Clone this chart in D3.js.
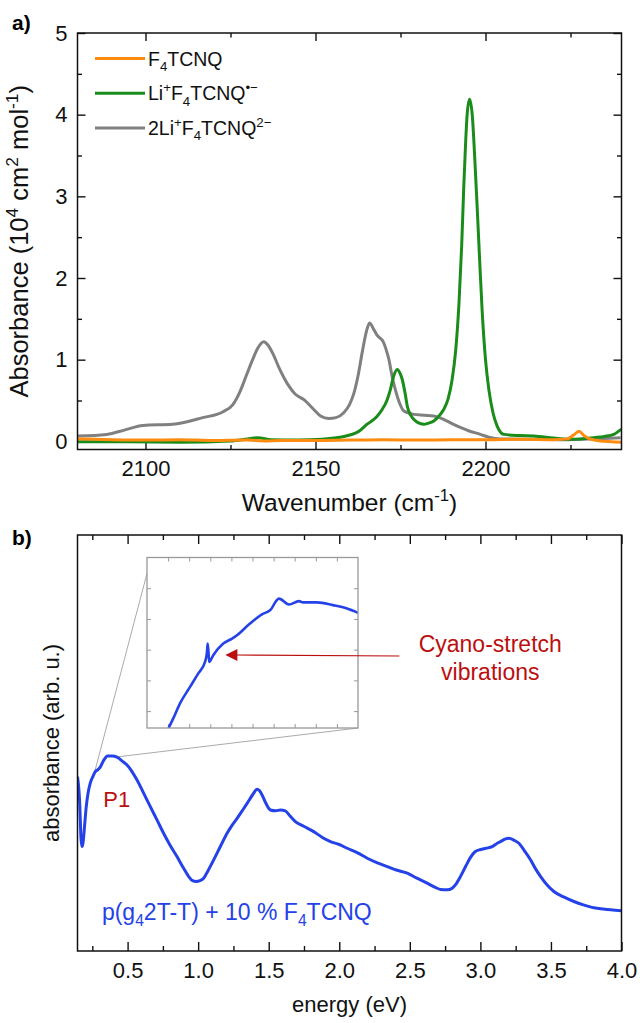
<!DOCTYPE html>
<html>
<head>
<meta charset="utf-8">
<script src="https://cdn.jsdelivr.net/npm/d3@7"></script>
<style>
  body { margin: 0; background: #fff; }
  svg { display: block; font-family: "Liberation Sans", Arial, sans-serif; }
</style>
</head>
<body>
<div id="chart"></div>
<script>
// ---------- panel a) : IR spectra, [wavenumber (cm-1), absorbance (1e4 cm2 mol-1)]
const neutralSpectrum = [
  [2080, 0.03], [2090, 0.02], [2100, 0.015], [2110, 0.02], [2120, 0.01], [2130, 0.015],
  [2135, 0.005], [2140, 0.01], [2150, 0.01], [2160, 0.015], [2170, 0.02], [2180, 0.015],
  [2190, 0.02], [2200, 0.02], [2210, 0.025], [2220, 0.02], [2224, 0.03], [2226, 0.08],
  [2227.5, 0.125], [2229, 0.07], [2231, 0.025], [2235, 0.0], [2240, -0.01]
];
const anionSpectrum = [
  [2080, -0.005], [2095, -0.005], [2110, -0.01], [2125, 0.005], [2130, 0.03], [2133, 0.045],
  [2137, 0.02], [2145, 0.015], [2152, 0.025], [2159, 0.065], [2163, 0.13], [2165.2, 0.21],
  [2168, 0.3], [2169.6, 0.39], [2171, 0.5], [2172, 0.63], [2173, 0.8], [2174, 0.88],
  [2175, 0.82], [2175.5, 0.76], [2176.3, 0.6], [2177, 0.43], [2178, 0.32], [2179.4, 0.25],
  [2181, 0.215], [2181.9, 0.21], [2183, 0.22], [2184.8, 0.25], [2186.5, 0.32], [2187.7, 0.39],
  [2189, 0.52], [2190.2, 0.76], [2191.2, 1.1], [2192.2, 1.69], [2193, 2.4], [2193.6, 3.11],
  [2194.2, 3.7], [2194.6, 4.0], [2195.3, 4.19], [2196.1, 4.0], [2196.8, 3.5], [2197.5, 2.91],
  [2198.3, 2.2], [2199, 1.61], [2200, 1.0], [2201, 0.63], [2202.2, 0.35], [2203.4, 0.19],
  [2205.4, 0.085], [2210, 0.07], [2214.2, 0.065], [2220, 0.04], [2224, 0.025], [2228, 0.03],
  [2231.8, 0.045], [2235, 0.06], [2237.7, 0.085], [2240, 0.15]
];
const dianionSpectrum = [
  [2080, 0.065], [2088.6, 0.085], [2094, 0.14], [2099.2, 0.195], [2108, 0.21], [2116.8, 0.29],
  [2122.7, 0.36], [2125.7, 0.45], [2127.7, 0.6], [2129.6, 0.8], [2131.5, 1.0], [2133, 1.14],
  [2134.8, 1.22], [2136, 1.18], [2137.4, 1.08], [2139.5, 0.88], [2141.8, 0.7], [2144, 0.58],
  [2146.6, 0.51], [2149.5, 0.39], [2151.5, 0.31], [2153.9, 0.28], [2156, 0.29], [2158.3, 0.35],
  [2160, 0.45], [2161.3, 0.59], [2162.5, 0.8], [2163.7, 1.08], [2165, 1.35], [2165.9, 1.45],
  [2167, 1.38], [2168.1, 1.3], [2169.9, 1.22], [2170.8, 1.12], [2171.6, 1.0], [2172.5, 0.8],
  [2173.5, 0.63], [2174.8, 0.46], [2176, 0.37], [2178.9, 0.33], [2182, 0.32], [2184.8, 0.31],
  [2187.7, 0.27], [2190, 0.22], [2192.6, 0.17], [2195, 0.13], [2198.5, 0.085], [2201, 0.05],
  [2204.4, 0.03], [2215, 0.025], [2224, 0.02], [2232, 0.03], [2239.7, 0.045]
];
const topSeriesNames = ["neutral", "anion", "dianion"];
const topXTicks = [2100, 2150, 2200];
const topXMinor = [2125, 2175, 2225];
const topYTicks = [0, 1, 2, 3, 4, 5];
const topYMinor = [0.5, 1.5, 2.5, 3.5, 4.5];

// ---------- panel b) : UV-vis-NIR, [energy (eV), absorbance (arb. u.)]
const dopedSpectrum = [
  [0.145, 0.419], [0.16, 0.36], [0.17, 0.27], [0.177, 0.251], [0.185, 0.262], [0.195, 0.3],
  [0.207, 0.347], [0.22, 0.38], [0.235, 0.403], [0.255, 0.42], [0.271, 0.431], [0.29, 0.436],
  [0.306, 0.442], [0.33, 0.458], [0.358, 0.469], [0.39, 0.469], [0.425, 0.466], [0.46, 0.457],
  [0.496, 0.447], [0.53, 0.432], [0.567, 0.411], [0.61, 0.382], [0.661, 0.347], [0.71, 0.314],
  [0.755, 0.283], [0.8, 0.255], [0.85, 0.227], [0.895, 0.2], [0.933, 0.179], [0.96, 0.169],
  [0.987, 0.167], [1.012, 0.169], [1.039, 0.175], [1.07, 0.193], [1.11, 0.219], [1.16, 0.253],
  [1.205, 0.283], [1.24, 0.302], [1.276, 0.319], [1.31, 0.336], [1.347, 0.355], [1.385, 0.375],
  [1.418, 0.389], [1.435, 0.385], [1.453, 0.375], [1.48, 0.355], [1.512, 0.339], [1.55, 0.337],
  [1.583, 0.339], [1.618, 0.337], [1.65, 0.325], [1.689, 0.311], [1.748, 0.3], [1.819, 0.287],
  [1.88, 0.273], [1.938, 0.263], [2.0, 0.256], [2.056, 0.247], [2.13, 0.236], [2.198, 0.223],
  [2.27, 0.212], [2.34, 0.203], [2.41, 0.194], [2.482, 0.187], [2.55, 0.175], [2.623, 0.163],
  [2.68, 0.153], [2.718, 0.148], [2.765, 0.147], [2.8, 0.151], [2.823, 0.159], [2.86, 0.18],
  [2.895, 0.203], [2.93, 0.225], [2.96, 0.238], [3.001, 0.244], [3.04, 0.247], [3.084, 0.251],
  [3.12, 0.259], [3.143, 0.263], [3.175, 0.269], [3.202, 0.271], [3.24, 0.266], [3.273, 0.259],
  [3.31, 0.242], [3.356, 0.219], [3.39, 0.198], [3.427, 0.179], [3.47, 0.16], [3.521, 0.143],
  [3.59, 0.13], [3.663, 0.119], [3.73, 0.111], [3.805, 0.104], [3.87, 0.101], [3.923, 0.099],
  [4.0, 0.097]
];
// zoom of the P1 band
const insetSpectrum = [
  [0.2705, -0.55], [0.2749, -0.237], [0.2813, 0.25], [0.2908, 0.79], [0.2986, 1.226],
  [0.305, 1.603], [0.3068, 1.9], [0.3075, 2.2], [0.3083, 1.9], [0.309, 1.603], [0.3128, 1.82],
  [0.3223, 2.2], [0.3306, 2.36], [0.3353, 2.47], [0.3476, 2.85], [0.359, 3.15], [0.3666, 3.28],
  [0.3751, 3.66], [0.3846, 3.47], [0.394, 3.58], [0.3979, 3.54], [0.4111, 3.54], [0.4263, 3.45],
  [0.4396, 3.34], [0.45, 3.2]
];
const bottomXTicks = [0.5, 1.0, 1.5, 2.0, 2.5, 3.0, 3.5, 4.0];
const bottomXMinor = [0.25, 0.75, 1.25, 1.75, 2.25, 2.75, 3.25, 3.75];
const insetXTicks = [0.27, 0.29, 0.31, 0.33, 0.35, 0.37, 0.39, 0.41, 0.43];
const insetYTicks = [0, 1, 2, 3, 4];

const colors = { neutral: "#ff8c0f", anion: "#1a8c1a", dianion: "#808080", doped: "#2442e8", note: "#bb0f0f" };
const FS = 22;

const svg = d3.select("#chart").append("svg").attr("width", 640).attr("height", 1023);
svg.append("rect").attr("width", 640).attr("height", 1023).attr("fill", "#fff");

// text with sub/superscripts: parts = [[string, "sub"|"sup"|undefined], ...]
function richText(sel, parts, size) {
  let cur = 0;
  parts.forEach(([s, kind]) => {
    const target = kind === "sup" ? -0.4 * size : kind === "sub" ? 0.28 * size : 0;
    sel.append("tspan")
      .attr("dy", target - cur)
      .attr("font-size", kind ? size * 0.68 : size)
      .text(s);
    cur = target;
  });
  return sel;
}

function styleAxis(g) {
  g.select(".domain").remove();
  g.selectAll(".tick line").attr("stroke", "#111").attr("stroke-width", 1.4);
  g.selectAll("text").attr("font-size", FS).attr("fill", "#111").attr("font-family", "Liberation Sans, Arial, sans-serif");
}

// ================= panel a) =================
const a = { left: 77.5, right: 621.5, top: 33, bottom: 449.5 };
const xA = d3.scaleLinear().domain([2080, 2240]).range([a.left, a.right]);
const yA = d3.scaleLinear().domain([-0.1, 5]).range([a.bottom, a.top]);

svg.append("g").attr("transform", `translate(0,${a.bottom})`)
  .call(d3.axisBottom(xA).tickValues(topXTicks).tickSizeInner(-8).tickSizeOuter(0).tickPadding(11).tickFormat(d3.format("d")))
  .call(styleAxis);
svg.append("g").attr("transform", `translate(0,${a.bottom})`)
  .call(d3.axisBottom(xA).tickValues(topXMinor).tickSizeInner(-4.5).tickSizeOuter(0).tickFormat(""))
  .call(styleAxis);
svg.append("g").attr("transform", `translate(0,${a.top})`)
  .call(d3.axisTop(xA).tickValues(topXTicks).tickSizeInner(-8).tickSizeOuter(0).tickFormat(""))
  .call(styleAxis);
svg.append("g").attr("transform", `translate(0,${a.top})`)
  .call(d3.axisTop(xA).tickValues(topXMinor).tickSizeInner(-4.5).tickSizeOuter(0).tickFormat(""))
  .call(styleAxis);
svg.append("g").attr("transform", `translate(${a.left},0)`)
  .call(d3.axisLeft(yA).tickValues(topYTicks).tickSizeInner(-8).tickSizeOuter(0).tickPadding(10).tickFormat(d3.format("d")))
  .call(styleAxis);
svg.append("g").attr("transform", `translate(${a.left},0)`)
  .call(d3.axisLeft(yA).tickValues(topYMinor).tickSizeInner(-4.5).tickSizeOuter(0).tickFormat(""))
  .call(styleAxis);
svg.append("g").attr("transform", `translate(${a.right},0)`)
  .call(d3.axisRight(yA).tickValues(topYTicks).tickSizeInner(-8).tickSizeOuter(0).tickFormat(""))
  .call(styleAxis);
svg.append("g").attr("transform", `translate(${a.right},0)`)
  .call(d3.axisRight(yA).tickValues(topYMinor).tickSizeInner(-4.5).tickSizeOuter(0).tickFormat(""))
  .call(styleAxis);

svg.append("defs").append("clipPath").attr("id", "clipA")
  .append("rect").attr("x", a.left).attr("y", a.top).attr("width", a.right - a.left).attr("height", a.bottom - a.top);

const lineA = d3.line().x((d) => xA(d[0])).y((d) => yA(d[1])).curve(d3.curveMonotoneX);
const topSeries = { neutral: neutralSpectrum, anion: anionSpectrum, dianion: dianionSpectrum };
// draw order: dianion, anion, neutral on top
["dianion", "anion", "neutral"].forEach((k) => {
  svg.append("path")
    .attr("clip-path", "url(#clipA)")
    .attr("fill", "none")
    .attr("stroke", colors[k])
    .attr("stroke-width", 3)
    .attr("stroke-linejoin", "round")
    .attr("d", lineA(topSeries[k]));
});

svg.append("rect")
  .attr("x", a.left).attr("y", a.top).attr("width", a.right - a.left).attr("height", a.bottom - a.top)
  .attr("fill", "none").attr("stroke", "#111").attr("stroke-width", 1.5);

// legend
const legendParts = {
  neutral: [["F"], ["4", "sub"], ["TCNQ"]],
  anion: [["Li"], ["+", "sup"], ["F"], ["4", "sub"], ["TCNQ"], ["\u2022\u2212", "sup"]],
  dianion: [["2Li"], ["+", "sup"], ["F"], ["4", "sub"], ["TCNQ"], ["2\u2212", "sup"]]
};
topSeriesNames.forEach((k, i) => {
  const yy = 58.5 + i * 34.7;
  svg.append("line").attr("x1", 95).attr("x2", 145).attr("y1", yy).attr("y2", yy)
    .attr("stroke", colors[k]).attr("stroke-width", 3);
  richText(svg.append("text").attr("x", 148).attr("y", yy + 7).attr("fill", "#111"), legendParts[k], 19.5);
});

// axis titles
richText(
  svg.append("text").attr("text-anchor", "middle").attr("fill", "#111")
    .attr("transform", `translate(28,${(a.top + a.bottom) / 2}) rotate(-90)`),
  [["Absorbance (10"], ["4", "sup"], [" cm"], ["2", "sup"], [" mol"], ["-1", "sup"], [")"]], 25.5
);
richText(
  svg.append("text").attr("text-anchor", "middle").attr("fill", "#111")
    .attr("x", (a.left + a.right) / 2).attr("y", a.bottom + 61),
  [["Wavenumber (cm"], ["-1", "sup"], [")"]], 24.5
);
svg.append("text").attr("x", 12).attr("y", 30).attr("font-size", 21).attr("font-weight", "bold").text("a)");

// ================= panel b) =================
const b = { left: 77.5, right: 621.5, top: 535, bottom: 951 };
const xB = d3.scaleLinear().domain([0.145, 4.0]).range([b.left, b.right]);
const yB = d3.scaleLinear().domain([0, 1]).range([b.bottom, b.top]);

svg.append("g").attr("transform", `translate(0,${b.bottom})`)
  .call(d3.axisBottom(xB).tickValues(bottomXTicks).tickSizeInner(-9).tickSizeOuter(0).tickPadding(11).tickFormat(d3.format(".1f")))
  .call(styleAxis);
svg.append("g").attr("transform", `translate(0,${b.bottom})`)
  .call(d3.axisBottom(xB).tickValues(bottomXMinor).tickSizeInner(-5).tickSizeOuter(0).tickFormat(""))
  .call(styleAxis);
svg.append("g").attr("transform", `translate(0,${b.top})`)
  .call(d3.axisTop(xB).tickValues(bottomXTicks).tickSizeInner(-9).tickSizeOuter(0).tickFormat(""))
  .call(styleAxis);
svg.append("g").attr("transform", `translate(0,${b.top})`)
  .call(d3.axisTop(xB).tickValues(bottomXMinor).tickSizeInner(-5).tickSizeOuter(0).tickFormat(""))
  .call(styleAxis);

// inset box (zoom of P1 band)
const ins = { left: 147, right: 358, top: 557.5, bottom: 728 };
const xI = d3.scaleLinear().domain([0.25, 0.45]).range([ins.left, ins.right]);
const yI = d3.scaleLinear().domain([-0.55, 5]).range([ins.bottom, ins.top]);

// connector lines from main curve to inset
const connectors = [
  [[0.267, 0.431], [0.25, 4.48]],
  [[0.436, 0.467], [0.45, -0.55]]
];
connectors.forEach(([m, n]) => {
  svg.append("line")
    .attr("x1", xB(m[0])).attr("y1", yB(m[1]))
    .attr("x2", xI(n[0])).attr("y2", yI(n[1]))
    .attr("stroke", "#aaa").attr("stroke-width", 1);
});

const insG = svg.append("g");
function styleInset(g) {
  g.select(".domain").remove();
  g.selectAll(".tick line").attr("stroke", "#999").attr("stroke-width", 1);
}
insG.append("g").attr("transform", `translate(0,${ins.bottom})`)
  .call(d3.axisBottom(xI).tickValues(insetXTicks).tickSizeInner(-4).tickSizeOuter(0).tickFormat("")).call(styleInset);
insG.append("g").attr("transform", `translate(0,${ins.top})`)
  .call(d3.axisTop(xI).tickValues(insetXTicks).tickSizeInner(-4).tickSizeOuter(0).tickFormat("")).call(styleInset);
insG.append("g").attr("transform", `translate(${ins.left},0)`)
  .call(d3.axisLeft(yI).tickValues(insetYTicks).tickSizeInner(-4).tickSizeOuter(0).tickFormat("")).call(styleInset);
insG.append("g").attr("transform", `translate(${ins.right},0)`)
  .call(d3.axisRight(yI).tickValues(insetYTicks).tickSizeInner(-4).tickSizeOuter(0).tickFormat("")).call(styleInset);

svg.append("defs").append("clipPath").attr("id", "clipI")
  .append("rect").attr("x", ins.left).attr("y", ins.top).attr("width", ins.right - ins.left).attr("height", ins.bottom - ins.top);
insG.append("path")
  .attr("clip-path", "url(#clipI)")
  .attr("fill", "none").attr("stroke", colors.doped).attr("stroke-width", 2.6).attr("stroke-linejoin", "round")
  .attr("d", d3.line().x((d) => xI(d[0])).y((d) => yI(d[1])).curve(d3.curveMonotoneX)(insetSpectrum));
insG.append("rect")
  .attr("x", ins.left).attr("y", ins.top).attr("width", ins.right - ins.left).attr("height", ins.bottom - ins.top)
  .attr("fill", "none").attr("stroke", "#999").attr("stroke-width", 1.3);

// main curve
svg.append("defs").append("clipPath").attr("id", "clipB")
  .append("rect").attr("x", b.left).attr("y", b.top).attr("width", b.right - b.left).attr("height", b.bottom - b.top);
svg.append("path")
  .attr("clip-path", "url(#clipB)")
  .attr("fill", "none").attr("stroke", colors.doped).attr("stroke-width", 3).attr("stroke-linejoin", "round")
  .attr("d", d3.line().x((d) => xB(d[0])).y((d) => yB(d[1])).curve(d3.curveMonotoneX)(dopedSpectrum));

svg.append("rect")
  .attr("x", b.left).attr("y", b.top).attr("width", b.right - b.left).attr("height", b.bottom - b.top)
  .attr("fill", "none").attr("stroke", "#111").attr("stroke-width", 1.5);

// annotation arrow: Cyano-stretch vibrations
const arrowTail = [2.426, 0.7115], arrowTip = [1.193, 0.7115];
svg.append("line")
  .attr("x1", xB(arrowTail[0])).attr("y1", yB(arrowTail[1]) + 1)
  .attr("x2", xB(arrowTip[0]) + 10).attr("y2", yB(arrowTip[1]))
  .attr("stroke", colors.note).attr("stroke-width", 1.2);
const tx = xB(arrowTip[0]), ty = yB(arrowTip[1]);
svg.append("path")
  .attr("d", `M${tx},${ty} L${tx + 12},${ty - 6} L${tx + 12},${ty + 6} Z`)
  .attr("fill", colors.note);

svg.append("text").attr("text-anchor", "middle").attr("x", xB(3.07)).attr("y", yB(0.719))
  .attr("font-size", 23).attr("fill", colors.note).text("Cyano-stretch");
svg.append("text").attr("text-anchor", "middle").attr("x", xB(3.07)).attr("y", yB(0.652))
  .attr("font-size", 23).attr("fill", colors.note).text("vibrations");

svg.append("text").attr("x", xB(0.328)).attr("y", yB(0.346))
  .attr("font-size", 22).attr("fill", colors.note).text("P1");

richText(
  svg.append("text").attr("x", xB(0.318)).attr("y", yB(0.0745)).attr("fill", colors.doped),
  [["p(g"], ["4", "sub"], ["2T-T) + 10 % F"], ["4", "sub"], ["TCNQ"]], 23
);

// axis titles
svg.append("text").attr("text-anchor", "middle").attr("fill", "#111").attr("font-size", FS)
  .attr("transform", `translate(59,${(b.top + b.bottom) / 2}) rotate(-90)`)
  .text("absorbance (arb. u.)");
svg.append("text").attr("text-anchor", "middle").attr("fill", "#111").attr("font-size", FS)
  .attr("x", (b.left + b.right) / 2).attr("y", b.bottom + 61)
  .text("energy (eV)");
svg.append("text").attr("x", 12).attr("y", 545).attr("font-size", 21).attr("font-weight", "bold").text("b)");
</script>
</body>
</html>
